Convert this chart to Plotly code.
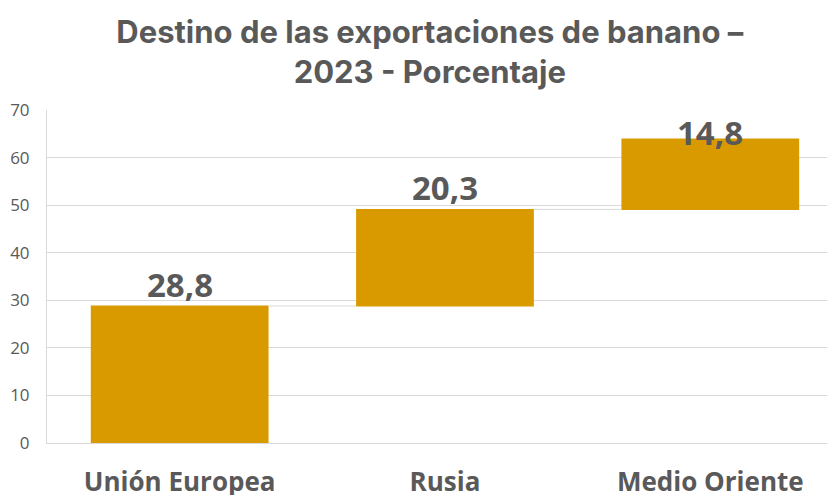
import plotly.graph_objects as go

categories = ["Unión Europea", "Rusia", "Medio Oriente"]
values = [28.8, 20.3, 14.8]
value_labels = ["28,8", "20,3", "14,8"]
y_ticks = [0, 10, 20, 30, 40, 50, 60, 70]
title_text = "Destino de las exportaciones de banano –<br>2023 - Porcentaje"

BAR = "#D99A00"
TXT = "#595959"
GRID = "#D9D9D9"
Y_MAX = 70
LABEL_FONT = dict(family="Open Sans", size=33, color=TXT, weight="bold")

fig = go.Figure(go.Waterfall(
    x=categories,
    y=values,
    measure=["relative"] * len(values),
    increasing=dict(marker=dict(color=BAR)),
    decreasing=dict(marker=dict(color=BAR)),
    connector=dict(line=dict(color=GRID, width=1)),
    textposition="none",
    hoverinfo="x+y",
))

# data labels above each bar, kept inside the plot area
cum = 0
for cat, v, lab in zip(categories, values, value_labels):
    cum += v
    if cum + 9 > Y_MAX:
        fig.add_annotation(x=cat, y=Y_MAX, yref="y", xref="x", text=lab,
                           showarrow=False, yanchor="top", yshift=2, font=LABEL_FONT)
    else:
        fig.add_annotation(x=cat, y=cum, yref="y", xref="x", text=lab,
                           showarrow=False, yanchor="bottom", yshift=-3, font=LABEL_FONT)

fig.update_layout(
    width=827, height=487,
    margin=dict(l=39, r=0, t=102, b=52, autoexpand=False),
    paper_bgcolor="white", plot_bgcolor="white",
    showlegend=False,
    waterfallgap=0.33,
    title=dict(text=title_text, x=0.510, xanchor="center", y=0.928, yanchor="top",
               automargin=False,
               font=dict(family="Inter", size=31, color=TXT, weight="bold")),
    xaxis=dict(range=[-0.5, 2.47], showgrid=False, showline=True, linecolor=GRID,
               linewidth=1, ticks="", ticklabelstandoff=16, automargin=False,
               tickfont=dict(family="Open Sans", size=26, color=TXT, weight="bold")),
    yaxis=dict(range=[0, Y_MAX], tickvals=y_ticks, showgrid=True, gridcolor=GRID,
               gridwidth=1, showline=True, linecolor=GRID, linewidth=1, zeroline=False,
               ticks="", ticklabelstandoff=13, automargin=False,
               tickfont=dict(family="Open Sans", size=17, color=TXT)),
)

fig.write_html("out.html")
